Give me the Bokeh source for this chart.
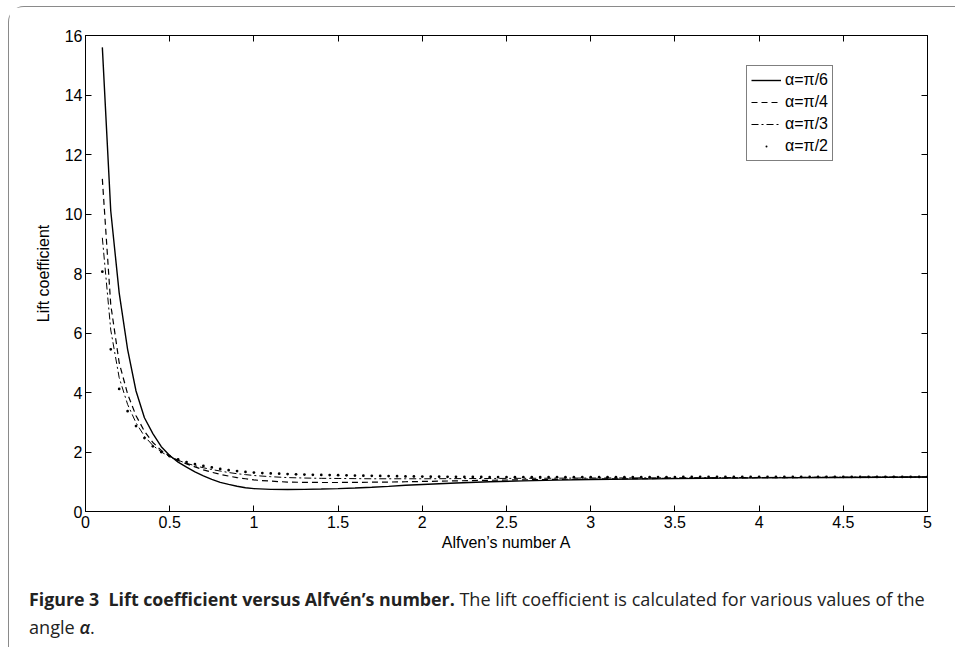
from bokeh.plotting import figure
from bokeh.models import LinearAxis, FixedTicker, Legend, LegendItem, Div
from bokeh.layouts import column
from bokeh.embed import file_html
from bokeh.resources import INLINE

# ---------------- data ----------------
x_line = [0.10, 0.15, 0.20, 0.25, 0.30, 0.35, 0.40, 0.45, 0.50, 0.55, 0.60, 0.65, 0.70,
          0.75, 0.80, 0.85, 0.90, 0.95, 1.00, 1.10, 1.20, 1.30, 1.40, 1.50, 1.60, 1.70,
          1.80, 1.90, 2.00, 2.20, 2.40, 2.60, 2.80, 3.00, 3.50, 4.00, 4.50, 5.00]

lift_pi6 = [15.6, 10.1, 7.35, 5.45, 4.05, 3.15, 2.62, 2.18, 1.88, 1.66, 1.49, 1.33, 1.20,
            1.08, 0.98, 0.91, 0.85, 0.80, 0.77, 0.745, 0.74, 0.745, 0.755, 0.77, 0.79, 0.815,
            0.845, 0.88, 0.91, 0.96, 1.00, 1.03, 1.055, 1.075, 1.105, 1.13, 1.145, 1.16]

lift_pi4 = [11.18, 6.95, 5.00, 3.95, 3.22, 2.70, 2.32, 2.05, 1.86, 1.72, 1.60, 1.50, 1.40,
            1.32, 1.25, 1.19, 1.14, 1.10, 1.06, 1.02, 0.99, 0.98, 0.975, 0.975, 0.98, 0.985,
            0.99, 1.00, 1.01, 1.03, 1.05, 1.065, 1.08, 1.09, 1.115, 1.135, 1.15, 1.16]

lift_pi3 = [9.20, 6.10, 4.50, 3.60, 2.98, 2.53, 2.22, 2.00, 1.84, 1.72, 1.62, 1.54, 1.47,
            1.41, 1.36, 1.31, 1.27, 1.24, 1.21, 1.17, 1.14, 1.125, 1.115, 1.11, 1.105, 1.10,
            1.10, 1.10, 1.10, 1.105, 1.11, 1.115, 1.12, 1.125, 1.135, 1.145, 1.155, 1.16]

x_dots = [0.10, 0.15, 0.20, 0.25, 0.30, 0.35, 0.40, 0.45, 0.50, 0.55, 0.60, 0.65, 0.70, 0.75,
          0.80, 0.85, 0.90, 0.95, 1.00, 1.05, 1.10, 1.15, 1.20, 1.25, 1.30, 1.35, 1.40, 1.45,
          1.50, 1.55, 1.60, 1.65, 1.70, 1.75, 1.80, 1.85, 1.90, 1.95, 2.00, 2.05, 2.10, 2.15,
          2.20, 2.25, 2.30, 2.35, 2.40, 2.45, 2.50, 2.55, 2.60, 2.65, 2.70, 2.75, 2.80, 2.85,
          2.90, 2.95, 3.00, 3.05, 3.10, 3.15, 3.20, 3.25, 3.30, 3.35, 3.40, 3.45, 3.50, 3.55,
          3.60, 3.65, 3.70, 3.75, 3.80, 3.85, 3.90, 3.95, 4.00, 4.05, 4.10, 4.15, 4.20, 4.25,
          4.30, 4.35, 4.40, 4.45, 4.50, 4.55, 4.60, 4.65, 4.70, 4.75, 4.80, 4.85, 4.90, 4.95,
          5.00]

lift_pi2 = [8.06, 5.45, 4.12, 3.37, 2.87, 2.47, 2.19, 2.00, 1.86, 1.75, 1.66, 1.59, 1.53, 1.48,
            1.43, 1.39, 1.36, 1.33, 1.31, 1.29, 1.28, 1.27, 1.26, 1.25, 1.24, 1.235, 1.23, 1.225,
            1.22, 1.215, 1.21, 1.205, 1.20, 1.195, 1.19, 1.185, 1.18, 1.18, 1.175, 1.17, 1.17, 1.165,
            1.165, 1.16, 1.16, 1.16, 1.155, 1.155, 1.155, 1.155, 1.155, 1.155, 1.155, 1.155, 1.155, 1.155,
            1.155, 1.155, 1.155, 1.155, 1.155, 1.155, 1.155, 1.155, 1.155, 1.155, 1.155, 1.155, 1.155, 1.16,
            1.16, 1.16, 1.16, 1.16, 1.16, 1.16, 1.16, 1.16, 1.16, 1.16, 1.16, 1.16, 1.16, 1.16,
            1.16, 1.16, 1.16, 1.16, 1.16, 1.16, 1.16, 1.16, 1.16, 1.16, 1.16, 1.16, 1.16, 1.16,
            1.16]

series_labels = ["α=π/6", "α=π/4", "α=π/3", "α=π/2"]

x_ticks = [0, 0.5, 1, 1.5, 2, 2.5, 3, 3.5, 4, 4.5, 5]
x_tick_labels = ["0", "0.5", "1", "1.5", "2", "2.5", "3", "3.5", "4", "4.5", "5"]
y_ticks = [0, 2, 4, 6, 8, 10, 12, 14, 16]
y_tick_labels = ["0", "2", "4", "6", "8", "10", "12", "14", "16"]

x_title = "Alfven’s number A"
y_title = "Lift coefficient"
caption_bold = "Figure 3&nbsp;&nbsp;Lift coefficient versus Alfvén’s number."
caption_rest = "The lift coefficient is calculated for various values of the"
caption_line2 = "angle"

# ---------------- figure ----------------
FONT = "Liberation Sans"
FS = "16px"

p = figure(width=939, height=552, output_backend="svg", toolbar_location=None,
           x_range=(0, 5), y_range=(0, 16),
           min_border_left=76, min_border_right=21, min_border_top=28, min_border_bottom=48)
p.grid.visible = False
p.outline_line_color = "black"
p.outline_line_width = 1
p.background_fill_color = "white"
p.border_fill_color = "white"

for ax in (p.xaxis[0], p.yaxis[0]):
    ax.major_tick_in = 6
    ax.major_tick_out = 0
    ax.minor_tick_line_color = None
    ax.axis_line_color = "black"
    ax.major_label_text_font = FONT
    ax.major_label_text_font_size = FS
    ax.major_label_text_color = "black"
    ax.axis_label_text_font = FONT
    ax.axis_label_text_font_size = FS
    ax.axis_label_text_font_style = "normal"
    ax.axis_label_text_color = "black"

p.xaxis[0].ticker = FixedTicker(ticks=x_ticks)
p.xaxis[0].major_label_overrides = {t: l for t, l in zip(x_ticks, x_tick_labels)}
p.xaxis[0].major_label_standoff = 4
p.xaxis[0].axis_label = x_title
p.xaxis[0].axis_label_standoff = 3

p.yaxis[0].ticker = FixedTicker(ticks=y_ticks)
p.yaxis[0].major_label_overrides = {t: l for t, l in zip(y_ticks, y_tick_labels)}
p.yaxis[0].major_label_standoff = 3
p.yaxis[0].axis_label = y_title
p.yaxis[0].axis_label_standoff = 10

top_ax = LinearAxis(ticker=FixedTicker(ticks=x_ticks), major_tick_in=6, major_tick_out=0,
                    minor_tick_line_color=None, axis_line_color="black",
                    major_label_overrides={t: "" for t in x_ticks},
                    major_label_text_font_size="0px")
right_ax = LinearAxis(ticker=FixedTicker(ticks=y_ticks), major_tick_in=6, major_tick_out=0,
                      minor_tick_line_color=None, axis_line_color="black",
                      major_label_overrides={t: "" for t in y_ticks},
                      major_label_text_font_size="0px")
p.add_layout(top_ax, "above")
p.add_layout(right_ax, "right")

r1 = p.line(x_line, lift_pi6, line_color="black", line_width=1.4)
r2 = p.line(x_line, lift_pi4, line_color="black", line_width=1.2, line_dash="6 4")
r3 = p.line(x_line, lift_pi3, line_color="black", line_width=1.0, line_dash="7 3 2 3")
r4 = p.scatter(x_dots, lift_pi2, marker="dot", size=11, line_color="black",
               fill_color="black", line_width=1)

legend = Legend(items=[LegendItem(label=series_labels[0], renderers=[r1]),
                       LegendItem(label=series_labels[1], renderers=[r2]),
                       LegendItem(label=series_labels[2], renderers=[r3]),
                       LegendItem(label=series_labels[3], renderers=[r4])],
                location=(661, 350))
legend.border_line_color = "black"
legend.border_line_width = 1
legend.background_fill_color = "white"
legend.background_fill_alpha = 1
legend.label_text_font = FONT
legend.label_text_font_size = FS
legend.label_text_color = "black"
legend.glyph_width = 30
legend.glyph_height = 20
legend.label_height = 20
legend.spacing = 2
legend.padding = 4
legend.margin = 0
legend.label_standoff = 4
p.add_layout(legend, "center")

caption_html = (
    f'<span style="font-weight:bold">{caption_bold}</span> '
    f'<span style="font-size:18.1px">{caption_rest}</span><br>'
    f'<span style="font-size:18.1px">{caption_line2} '
    f'<span style="font-weight:600;font-style:italic">α</span>.</span>'
)
cap = Div(text=caption_html, width=939, height=80,
          styles={"font-family": "'Open Sans', sans-serif", "font-size": "17.8px",
                  "line-height": "28px", "color": "#222222", "white-space": "nowrap",
                  "padding-left": "15px", "padding-top": "21px", "box-sizing": "border-box",
                  "background": "white"})

layout = column(p, cap, spacing=0,
                styles={"margin-left": "8px", "margin-top": "6px",
                        "border-top": "1.5px solid #8a8a8a", "border-left": "1.5px solid #8a8a8a",
                        "border-top-left-radius": "16px", "background": "white"})

open("out.html", "w").write(file_html(layout, INLINE))
